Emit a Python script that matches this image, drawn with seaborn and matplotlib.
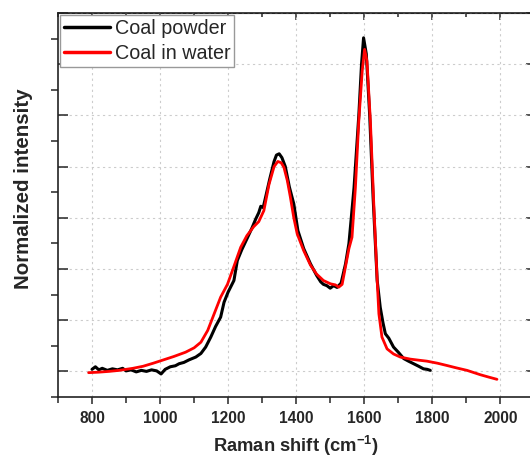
import matplotlib
matplotlib.use("Agg")
import matplotlib.pyplot as plt
import seaborn as sns
from matplotlib.ticker import MultipleLocator

# Coal in water (red)
water_x = [790, 820, 850, 880, 920, 950, 980, 1010, 1040, 1075, 1100, 1120, 1140, 1159,
           1178, 1198, 1217, 1237, 1255, 1275, 1290, 1305, 1320, 1335, 1346, 1356, 1364,
           1374, 1383, 1393, 1403, 1422, 1442, 1460, 1480, 1501, 1515, 1525, 1535, 1545,
           1555, 1564, 1574, 1584, 1594, 1601, 1608, 1618, 1628, 1638, 1643, 1652, 1667,
           1686, 1706, 1735, 1765, 1784, 1815, 1843, 1870, 1902, 1941, 1965, 1990]
water_y = [-0.005, -0.003, 0.0, 0.004, 0.012, 0.02, 0.032, 0.045, 0.058, 0.075, 0.092,
           0.114, 0.16, 0.225, 0.29, 0.34, 0.41, 0.485, 0.53, 0.565, 0.585, 0.628, 0.73,
           0.80, 0.82, 0.815, 0.797, 0.745, 0.68, 0.6, 0.537, 0.472, 0.415, 0.38, 0.355,
           0.342, 0.338, 0.329, 0.34, 0.41, 0.48, 0.524, 0.718, 0.979, 1.173, 1.258, 1.212,
           0.979, 0.654, 0.355, 0.225, 0.134, 0.088, 0.068, 0.056, 0.048, 0.043, 0.04,
           0.032, 0.023, 0.014, 0.004, -0.013, -0.022, -0.031]

# Coal powder (black)
powder_x = [800, 810, 820, 830, 845, 860, 875, 890, 900, 915, 930, 945, 960, 975, 990,
            1003, 1015, 1030, 1045, 1056, 1070, 1085, 1105, 1120, 1134, 1149, 1163, 1178,
            1188, 1200, 1217, 1227, 1240, 1256, 1270, 1281, 1290, 1296, 1303, 1310, 1322,
            1335, 1342, 1350, 1358, 1368, 1380, 1393, 1405, 1422, 1442, 1460, 1472, 1480,
            1490, 1500, 1510, 1520, 1532, 1545, 1555, 1570, 1584, 1592, 1598, 1606, 1616,
            1626, 1638, 1647, 1655, 1662, 1672, 1686, 1700, 1716, 1730, 1745, 1760, 1774,
            1785, 1794]
powder_y = [0.008, 0.018, 0.006, 0.012, 0.004, 0.01, 0.006, 0.012, 0.002, 0.006, -0.002,
            0.004, 0.0, 0.006, 0.002, -0.01, 0.008, 0.018, 0.022, 0.03, 0.035, 0.045,
            0.056, 0.07, 0.095, 0.134, 0.175, 0.212, 0.27, 0.31, 0.355, 0.433, 0.475, 0.52,
            0.56, 0.595, 0.62, 0.645, 0.64, 0.68, 0.75, 0.82, 0.845, 0.85, 0.835, 0.80,
            0.72, 0.654, 0.55, 0.48, 0.42, 0.375, 0.35, 0.34, 0.335, 0.325, 0.335, 0.328,
            0.345, 0.42, 0.5, 0.718, 1.0, 1.2, 1.303, 1.24, 1.0, 0.68, 0.355, 0.25, 0.19,
            0.147, 0.13, 0.095, 0.075, 0.05, 0.04, 0.03, 0.02, 0.01, 0.008, 0.004]

sns.set_style("white")
plt.rcParams['font.family'] = ['Liberation Sans', 'DejaVu Sans']
plt.rcParams['mathtext.fontset'] = 'custom'
plt.rcParams['mathtext.rm'] = 'Liberation Sans'
plt.rcParams['mathtext.bf'] = 'Liberation Sans:bold'

fig = plt.figure(figsize=(5.3, 4.59), dpi=100)
ax = fig.add_axes([0.1094, 0.1351, 0.8989, 0.8366])

sns.lineplot(x=powder_x, y=powder_y, ax=ax, color='black', lw=2.2, label='Coal powder')
sns.lineplot(x=water_x, y=water_y, ax=ax, color='red', lw=2, label='Coal in water')

ax.set_xlim(700, 2100)
ax.set_ylim(-0.1, 1.4)
ax.xaxis.set_major_locator(MultipleLocator(200))
ax.xaxis.set_minor_locator(MultipleLocator(100))
ax.yaxis.set_major_locator(MultipleLocator(0.2))
ax.yaxis.set_minor_locator(MultipleLocator(0.1))
ax.grid(True, which='major', ls=(0, (2, 3)), color='#cccccc', lw=0.8)

for s in ax.spines.values():
    s.set_color('#222222')
    s.set_linewidth(1.2)

ax.tick_params(axis='x', which='major', direction='out', length=5, width=1.1,
               labelsize=11.2, pad=5, top=False, bottom=True)
ax.tick_params(axis='x', which='minor', direction='out', length=4, width=1.1,
               top=False, bottom=True)
ax.tick_params(axis='y', which='major', direction='in', length=7, width=1.1,
               left=True, right=False, labelleft=False)
ax.tick_params(axis='y', which='minor', direction='out', length=5, width=1.1,
               left=True, right=False)
for t in ax.get_xticklabels():
    t.set_fontweight('bold')

top = ax.secondary_xaxis('top')
top.xaxis.set_major_locator(MultipleLocator(200))
top.xaxis.set_minor_locator(MultipleLocator(100))
top.tick_params(which='major', direction='in', length=5, width=1.1, labeltop=False)
top.tick_params(which='minor', direction='in', length=3, width=1.1)
right = ax.secondary_yaxis('right')
right.yaxis.set_major_locator(MultipleLocator(0.2))
right.yaxis.set_minor_locator(MultipleLocator(0.1))
right.tick_params(which='major', direction='in', length=6, width=1.1, labelright=False)
right.tick_params(which='minor', direction='in', length=3, width=1.1)

ax.set_xlabel(r'Raman shift (cm$^{\mathbf{-1}}$)', fontsize=13.2, fontweight='bold')
ax.set_ylabel('Normalized intensity', fontsize=14.8, fontweight='bold')
ax.yaxis.set_label_coords(-0.053, 0.542)
ax.xaxis.set_label_coords(0.5, -0.096)

leg = ax.legend(loc='upper left', bbox_to_anchor=(0.004, 0.995), fontsize=14.2,
                frameon=True, fancybox=False, edgecolor='#999999', framealpha=1,
                handlelength=2.33, handletextpad=0.25, borderpad=0.2,
                labelspacing=0.3, borderaxespad=0)
leg.get_frame().set_linewidth(1.0)
for line in leg.get_lines():
    line.set_linewidth(2.5)

fig.savefig('out.png', dpi=100)
